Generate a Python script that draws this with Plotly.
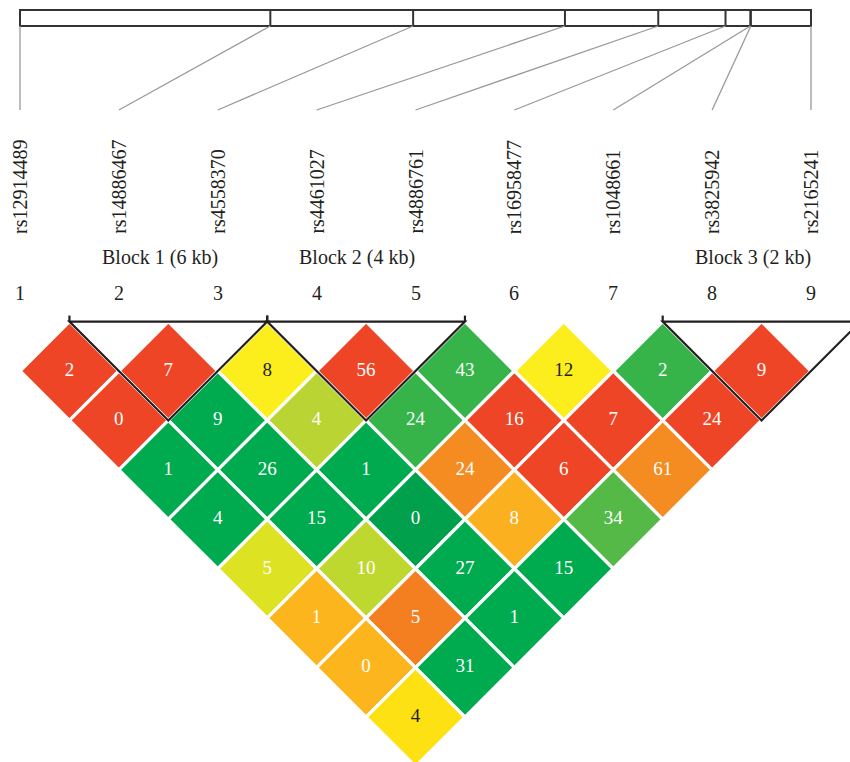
import plotly.graph_objects as go

# ---------------- data ----------------
snp_ids = ["rs12914489", "rs14886467", "rs4558370", "rs4461027", "rs4886761",
           "rs16958477", "rs1048661", "rs3825942", "rs2165241"]
snp_numbers = ["1", "2", "3", "4", "5", "6", "7", "8", "9"]
# relative physical positions on the map bar (kb)
snp_pos_kb = [0.0, 10.57, 16.60, 23.01, 26.95, 29.79, 30.84, 30.86, 33.40]

# LD values by distance (row k = pairs (i, i+k))
ld_row1 = [2, 7, 8, 56, 43, 12, 2, 9]
ld_row2 = [0, 9, 4, 24, 16, 7, 24]
ld_row3 = [1, 26, 1, 24, 6, 61]
ld_row4 = [4, 15, 0, 8, 34]
ld_row5 = [5, 10, 27, 15]
ld_row6 = [1, 5, 1]
ld_row7 = [0, 31]
ld_row8 = [4]

blocks = [(2, 3, "Block 1 (6 kb)"), (4, 5, "Block 2 (4 kb)"), (8, 9, "Block 3 (2 kb)")]

# ---------------- styles ----------------
RED = "#EE4527"
YEL = "#FCEE1D"
YEL2 = "#FEE112"
GRN = "#00AB4F"
GRN2 = "#36B44A"
DGRN = "#00A04D"
GRN34 = "#55B947"
YG4 = "#B9D433"
YG10 = "#BFD830"
YG5 = "#DDE223"
ORA = "#F48C21"
LOR = "#FBB020"
LOR2 = "#FCB51D"
ORA5 = "#F47F20"

col_row1 = [RED, RED, YEL, RED, GRN2, YEL, GRN2, RED]
col_row2 = [RED, GRN, YG4, GRN2, RED, RED, RED]
col_row3 = [GRN, GRN, GRN, ORA, RED, ORA]
col_row4 = [GRN, GRN, DGRN, LOR, GRN34]
col_row5 = [YG5, YG10, GRN, GRN]
col_row6 = [LOR2, ORA5, GRN]
col_row7 = [LOR2, GRN]
col_row8 = [YEL2]

dark_text_colors = {YEL, YEL2}

ld_rows = [ld_row1, ld_row2, ld_row3, ld_row4, ld_row5, ld_row6, ld_row7, ld_row8]
col_rows = [col_row1, col_row2, col_row3, col_row4, col_row5, col_row6, col_row7, col_row8]

# ---------------- geometry (axis units: 1 unit = SNP spacing) ----------------
W, H = 850, 762
UNIT = (811 - 20) / 8.0          # px per unit
X0 = 1 - 20 / UNIT               # axis value at left edge
Y_ROW1 = 371 / UNIT              # centre of first LD row
Y_TOP = Y_ROW1 - 0.5             # top of LD triangle
BAR_Y0, BAR_Y1 = 10 / UNIT, 26 / UNIT
LINE_END = 110 / UNIT
LABEL_BOTTOM = 236 / UNIT
BLOCK_Y = 257 / UNIT
NUM_Y = 293 / UNIT

n = len(snp_ids)
total = snp_pos_kb[-1] - snp_pos_kb[0]
map_x = [1 + (n - 1) * (p - snp_pos_kb[0]) / total for p in snp_pos_kb]

shapes = []
# map bar
shapes.append(dict(type="rect", xref="x", yref="y", x0=map_x[0], x1=map_x[-1],
                   y0=BAR_Y0, y1=BAR_Y1, line=dict(color="#333333", width=2),
                   fillcolor="white"))
for mx in map_x[1:-1]:
    shapes.append(dict(type="line", xref="x", yref="y", x0=mx, x1=mx,
                       y0=BAR_Y0, y1=BAR_Y1, line=dict(color="#333333", width=2)))
# connector lines
for i, mx in enumerate(map_x):
    shapes.append(dict(type="line", xref="x", yref="y", x0=mx, y0=BAR_Y1,
                       x1=i + 1, y1=LINE_END, line=dict(color="#999999", width=1.3)))

# diamonds
tx, ty, tt, tc = [], [], [], []
for k, (vals, cols) in enumerate(zip(ld_rows, col_rows), start=1):
    for j, (v, c) in enumerate(zip(vals, cols)):
        i = j + 1
        cx = i + k / 2.0
        cy = Y_ROW1 + (k - 1) / 2.0
        path = (f"M {cx} {cy - 0.5} L {cx + 0.5} {cy} L {cx} {cy + 0.5} "
                f"L {cx - 0.5} {cy} Z")
        shapes.append(dict(type="path", xref="x", yref="y", path=path,
                           fillcolor=c, line=dict(color="white", width=3.2),
                           layer="below"))
        tx.append(cx)
        ty.append(cy)
        tt.append(str(v))
        tc.append("#231F20" if c in dark_text_colors else "white")

# block triangles
for a, b, _ in blocks:
    xl, xr = a - 0.5, b + 0.5
    apex_x = (a + b) / 2.0
    apex_y = Y_TOP + (b - a + 1) / 2.0
    shapes.append(dict(type="path", xref="x", yref="y",
                       path=f"M {xl} {Y_TOP} L {xr} {Y_TOP} L {apex_x} {apex_y} Z",
                       line=dict(color="#231F20", width=2.2), fillcolor="rgba(0,0,0,0)",
                       layer="above"))
    for xe in (xl, xr):
        shapes.append(dict(type="line", xref="x", yref="y", x0=xe, x1=xe,
                           y0=Y_TOP - 6 / UNIT, y1=Y_TOP,
                           line=dict(color="#231F20", width=2.2), layer="above"))

FONT = "Liberation Serif, Times New Roman, serif"

annotations = []
for i, sid in enumerate(snp_ids):
    annotations.append(dict(x=i + 1, y=LABEL_BOTTOM, xref="x", yref="y", text=sid,
                            textangle=-90, showarrow=False, xanchor="center",
                            yanchor="bottom", font=dict(family=FONT, size=20, color="#231F20")))
    annotations.append(dict(x=i + 1, y=NUM_Y, xref="x", yref="y", text=snp_numbers[i],
                            showarrow=False, xanchor="center", yanchor="middle",
                            font=dict(family=FONT, size=20, color="#231F20")))
for a, b, lab in blocks:
    annotations.append(dict(x=b + 0.02, y=BLOCK_Y, xref="x", yref="y", text=lab,
                            showarrow=False, xanchor="right", yanchor="middle",
                            font=dict(family=FONT, size=20, color="#231F20")))

fig = go.Figure()
fig.add_trace(go.Scatter(x=tx, y=ty, mode="text", text=tt,
                         textfont=dict(family=FONT, size=19, color=tc),
                         textposition="middle center", hoverinfo="skip",
                         showlegend=False))

fig.update_layout(
    width=W, height=H,
    margin=dict(l=0, r=0, t=0, b=0),
    paper_bgcolor="white", plot_bgcolor="white",
    shapes=shapes, annotations=annotations,
    xaxis=dict(range=[X0, X0 + W / UNIT], visible=False, fixedrange=True),
    yaxis=dict(range=[H / UNIT, 0], visible=False, fixedrange=True),
    showlegend=False,
)

fig.write_html("out.html", config={"displayModeBar": False, "staticPlot": True},
               post_script="document.body.style.margin='0';document.body.style.overflow='hidden';")
